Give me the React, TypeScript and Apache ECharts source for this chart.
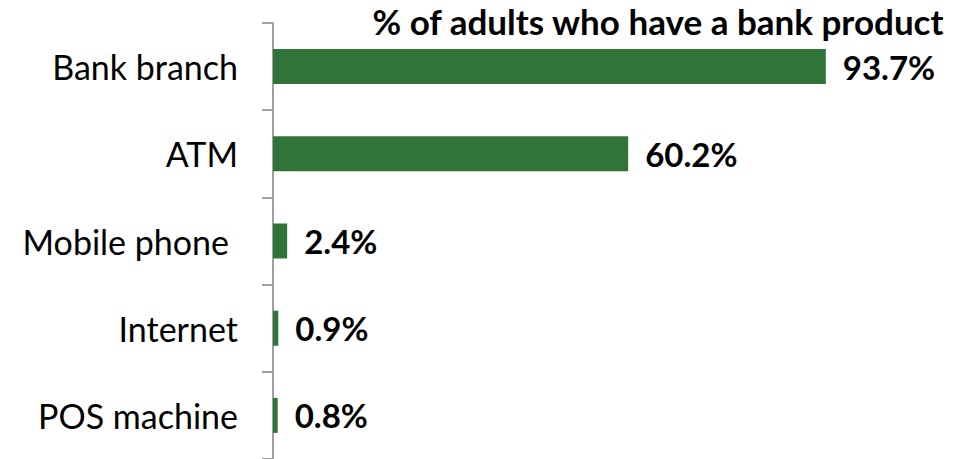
import React, { useEffect, useRef } from "react";
import * as echarts from "echarts";

const categories = ["Bank branch", "ATM", "Mobile phone", "Internet", "POS machine"];
const shares = [93.7, 60.2, 2.4, 0.9, 0.8];
const chartTitle = "% of adults who have a bank product";

const FONT = "Lato, 'Open Sans', sans-serif";

export default function App() {
  const ref = useRef<HTMLDivElement>(null);

  useEffect(() => {
    if (!ref.current) return;
    const chart = echarts.init(ref.current, undefined, { renderer: "svg" });
    chart.setOption({
      animation: false,
      backgroundColor: "#ffffff",
      graphic: [
        {
          type: "text",
          x: 658,
          y: 3,
          style: {
            text: chartTitle,
            fill: "#000",
            font: `bold 35px ${FONT}`,
            textAlign: "center",
            textVerticalAlign: "top",
          },
        },
      ],
      grid: { left: 273, top: 23, width: 590, height: 437.5 },
      xAxis: { type: "value", min: 0, max: 100, show: false },
      yAxis: {
        type: "category",
        inverse: true,
        data: categories,
        axisLine: { show: true, lineStyle: { color: "#A0A0A0", width: 2 } },
        axisTick: { show: true, inside: false, length: 11, lineStyle: { color: "#A0A0A0", width: 2 } },
        axisLabel: {
          margin: 35,
          color: "#000",
          fontSize: 34,
          fontFamily: FONT,
          formatter: (v: string) => (v === "Mobile phone" ? `{m|${v}}` : v),
          rich: { m: { padding: [0, 9, 0, 0], fontSize: 34, fontFamily: FONT, color: "#000" } },
        },
        splitLine: { show: false },
      },
      series: [
        {
          type: "bar",
          data: shares,
          barWidth: 35,
          itemStyle: { color: "#31743A" },
          label: {
            show: true,
            position: "right",
            distance: 17,
            formatter: "{c}%",
            color: "#000",
            fontWeight: "bold",
            fontSize: 33,
            fontFamily: FONT,
          },
        },
      ],
    });
    return () => chart.dispose();
  }, []);

  return (
    <div
      ref={ref}
      style={{ position: "fixed", left: 0, top: 0, width: 963, height: 459 }}
    />
  );
}
